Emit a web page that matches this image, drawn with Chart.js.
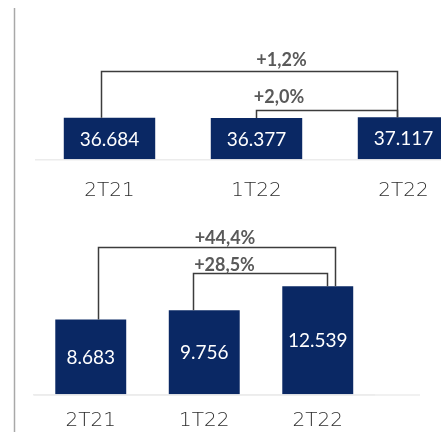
<!DOCTYPE html>
<html><head><meta charset="utf-8">
<script src="https://cdn.jsdelivr.net/npm/chart.js@4.4.1/dist/chart.umd.min.js"></script>
<style>
html,body{margin:0;padding:0;background:#fff;overflow:hidden}
#wrap{position:relative;width:441px;height:432px;overflow:hidden;background:#fff}
#top{position:absolute;left:0;top:0;width:480px;height:215px}
#bot{position:absolute;left:0;top:215px;width:441px;height:217px}
</style></head><body>
<div id="wrap">
<div id="top"><canvas id="c1"></canvas></div>
<div id="bot"><canvas id="c2"></canvas></div>
</div>
<script>
// ---- data ----
const categories = ['2T21', '1T22', '2T22'];
const topValues = [36684, 36377, 37117];
const bottomValues = [8683, 9756, 12539];
const topGrowthLabels = ['+1,2%', '+2,0%'];
const topGrowthFrom = [0, 1];
const topGrowthTo = [2, 2];
const bottomGrowthLabels = ['+44,4%', '+28,5%'];
const bottomGrowthFrom = [0, 1];
const bottomGrowthTo = [2, 2];

// ---- styles ----
const BAR = '#0a2864';
const FONT = 'Lato, "Open Sans", sans-serif';
const CAT_FONT = '"DejaVu Sans", Lato, sans-serif';
const topBracketStyle = [
  {dx1: -8.8, dx2: -7, rise: 46, labelDx: 32, labelRise: 11},
  {dx1: -0.8, dx2: -7, rise: 7.5, labelDx: -48, labelRise: 13.5}
];
const bottomBracketStyle = [
  {dx1: 6.8, dx2: 17.2, rise: 39.7, labelDx: 8, labelRise: 9.7},
  {dx1: -11.3, dx2: 9.5, rise: 13.4, labelDx: -36, labelRise: 8.6}
];

function fmt(v) { return String(Math.round(v)).replace(/\B(?=(\d{3})+(?!\d))/g, '.'); }

const decor = {
  id: 'decor',
  beforeDraw(chart, args, o) {
    const ctx = chart.ctx;
    ctx.save();
    ctx.strokeStyle = '#a8a8a8';
    ctx.lineWidth = 1.5;
    ctx.beginPath();
    ctx.moveTo(14.5, o.frameTop);
    ctx.lineTo(14.5, chart.height);
    ctx.stroke();
    if (o.baseEnd) {
      const y = chart.scales.y.getPixelForValue(0);
      ctx.strokeStyle = '#ececec';
      ctx.lineWidth = 1.5;
      ctx.beginPath();
      ctx.moveTo(chart.chartArea.left, y + 0.75);
      ctx.lineTo(o.baseEnd, y + 0.75);
      ctx.stroke();
    }
    ctx.restore();
  },
  afterDatasetsDraw(chart, args, o) {
    const ctx = chart.ctx;
    const bars = chart.getDatasetMeta(0).data;
    const vals = chart.data.datasets[0].data;
    ctx.save();
    ctx.fillStyle = '#ffffff';
    ctx.font = '19px ' + FONT;
    ctx.textAlign = 'center';
    ctx.textBaseline = 'middle';
    bars.forEach((b, i) => {
      ctx.fillText(fmt(vals[i]), b.x, (b.y + b.base) / 2 + 1);
    });
    o.labels.forEach((lab, k) => {
      const s = o.style[k];
      const a = bars[o.from[k]], c = bars[o.to[k]];
      let top = Infinity;
      for (let i = o.from[k]; i <= o.to[k]; i++) top = Math.min(top, bars[i].y);
      const lvl = Math.round(top - s.rise) + 0.5;
      const x1 = Math.round(a.x + s.dx1) + 0.5, x2 = Math.round(c.x + s.dx2) + 0.5;
      ctx.strokeStyle = '#3c3c3c';
      ctx.lineWidth = 1.5;
      ctx.beginPath();
      ctx.moveTo(x1, a.y);
      ctx.lineTo(x1, lvl);
      ctx.lineTo(x2, lvl);
      ctx.lineTo(x2, c.y);
      ctx.stroke();
      ctx.fillStyle = '#595959';
      ctx.font = 'bold 18px ' + FONT;
      ctx.fillText(lab, (x1 + x2) / 2 + s.labelDx, lvl - s.labelRise);
    });
    ctx.restore();
  }
};

function makeChart(id, values, yMax, pad, axisH, tickPad, pluginOpts, barPct) {
  return new Chart(document.getElementById(id), {
    type: 'bar',
    data: {labels: categories, datasets: [{data: values, backgroundColor: BAR, borderWidth: 0,
      categoryPercentage: 1, barPercentage: barPct}]},
    options: {
      responsive: true, maintainAspectRatio: false, animation: false,
      layout: {padding: pad},
      plugins: {legend: {display: false}, tooltip: {enabled: false}, decor: pluginOpts},
      scales: {
        y: {display: false, min: 0, max: yMax},
        x: {
          afterFit: s => { s.height = axisH; },
          grid: {display: false, drawTicks: false, tickLength: 0},
          border: {display: true, color: '#ececec', width: 1.5},
          ticks: {color: '#2e2e2e', padding: tickPad, font: {family: CAT_FONT, size: 20, weight: 200}}
        }
      }
    },
    plugins: [decor]
  });
}

makeChart('c1', topValues, 114000, {left: 36, right: 3, top: 30, bottom: 0}, 55.7, 19.5,
  {frameTop: 8, labels: topGrowthLabels, from: topGrowthFrom, to: topGrowthTo, style: topBracketStyle}, 0.622);
makeChart('c2', bottomValues, 19640, {left: 34, right: 66.5, top: 10, bottom: 0}, 37.7, 14,
  {frameTop: 0, baseEnd: 420, labels: bottomGrowthLabels, from: bottomGrowthFrom, to: bottomGrowthTo, style: bottomBracketStyle}, 0.625);
</script>
</body></html>
